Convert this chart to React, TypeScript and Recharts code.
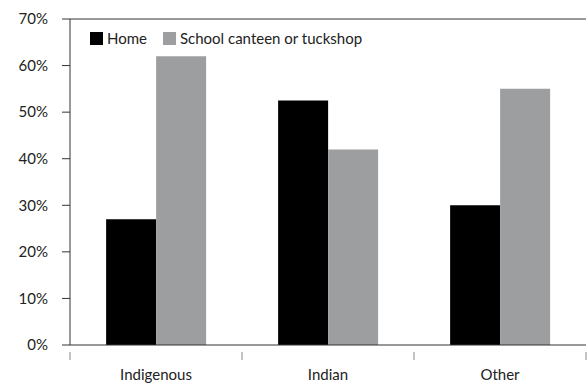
import React from "react";
import { Bar, BarChart, ReferenceLine, XAxis, YAxis } from "recharts";

const categories = ["Indigenous", "Indian", "Other"];
const homeValues = [27, 52.5, 30];
const canteenValues = [62, 42, 55];
const yTicks = [0, 10, 20, 30, 40, 50, 60, 70];

const series = [
  { key: "home", name: "Home", color: "#000000" },
  { key: "canteen", name: "School canteen or tuckshop", color: "#9d9ea0" },
];

const data = categories.map((name, i) => ({ name, home: homeValues[i], canteen: canteenValues[i] }));

const font = "Lato, 'Open Sans', sans-serif";

// category label plus tick marks at the band edges
function CategoryTick(props: any) {
  const { x, y, payload, index, width, visibleTicksCount } = props;
  const half = payload.offset ? payload.offset : width / visibleTicksCount / 2;
  const y0 = y - 1;
  return (
    <g>
      {index === 0 && <line x1={x - half} y1={y0} x2={x - half} y2={y0 + 8} stroke="#8a8a8a" />}
      <line x1={x + half} y1={y0} x2={x + half} y2={y0 + 8} stroke="#8a8a8a" />
      <text x={x} y={y0 + 28} textAnchor="middle" fontFamily={font} fontSize={15} fill="#222">
        {payload.value}
      </text>
    </g>
  );
}

export default function App() {
  return (
    <div style={{ position: "absolute", left: 0, top: 0, width: 587, height: 383, background: "#fff", fontFamily: font }}>
      <BarChart width={587} height={383} data={data} margin={{ top: 19, right: 1, bottom: 0, left: 0 }} barCategoryGap="21%" barGap={0}>
        <XAxis
          dataKey="name"
          height={38}
          axisLine={{ stroke: "#333" }}
          tickLine={false}
          interval={0}
          tick={<CategoryTick />}
        />
        <YAxis
          domain={[0, 70]}
          ticks={yTicks}
          width={70}
          interval={0}
          axisLine={{ stroke: "#333" }}
          tickLine={{ stroke: "#333" }}
          tickSize={8}
          tickMargin={14}
          tickFormatter={(v: number) => `${v}%`}
          tick={{ fontFamily: font, fontSize: 15, fill: "#222" }}
        />
        <ReferenceLine y={70} stroke="#333" />
        {series.map((s) => (
          <Bar key={s.key} dataKey={s.key} name={s.name} fill={s.color} isAnimationActive={false} />
        ))}
      </BarChart>
      <div style={{ position: "absolute", left: 90, top: 29, display: "flex", alignItems: "center", fontSize: 15, color: "#222" }}>
        {series.map((s) => (
          <div key={s.key} style={{ display: "flex", alignItems: "center", marginRight: 16 }}>
            <span style={{ display: "inline-block", width: 13, height: 13, background: s.color, marginRight: 4 }} />
            <span>{s.name}</span>
          </div>
        ))}
      </div>
    </div>
  );
}
